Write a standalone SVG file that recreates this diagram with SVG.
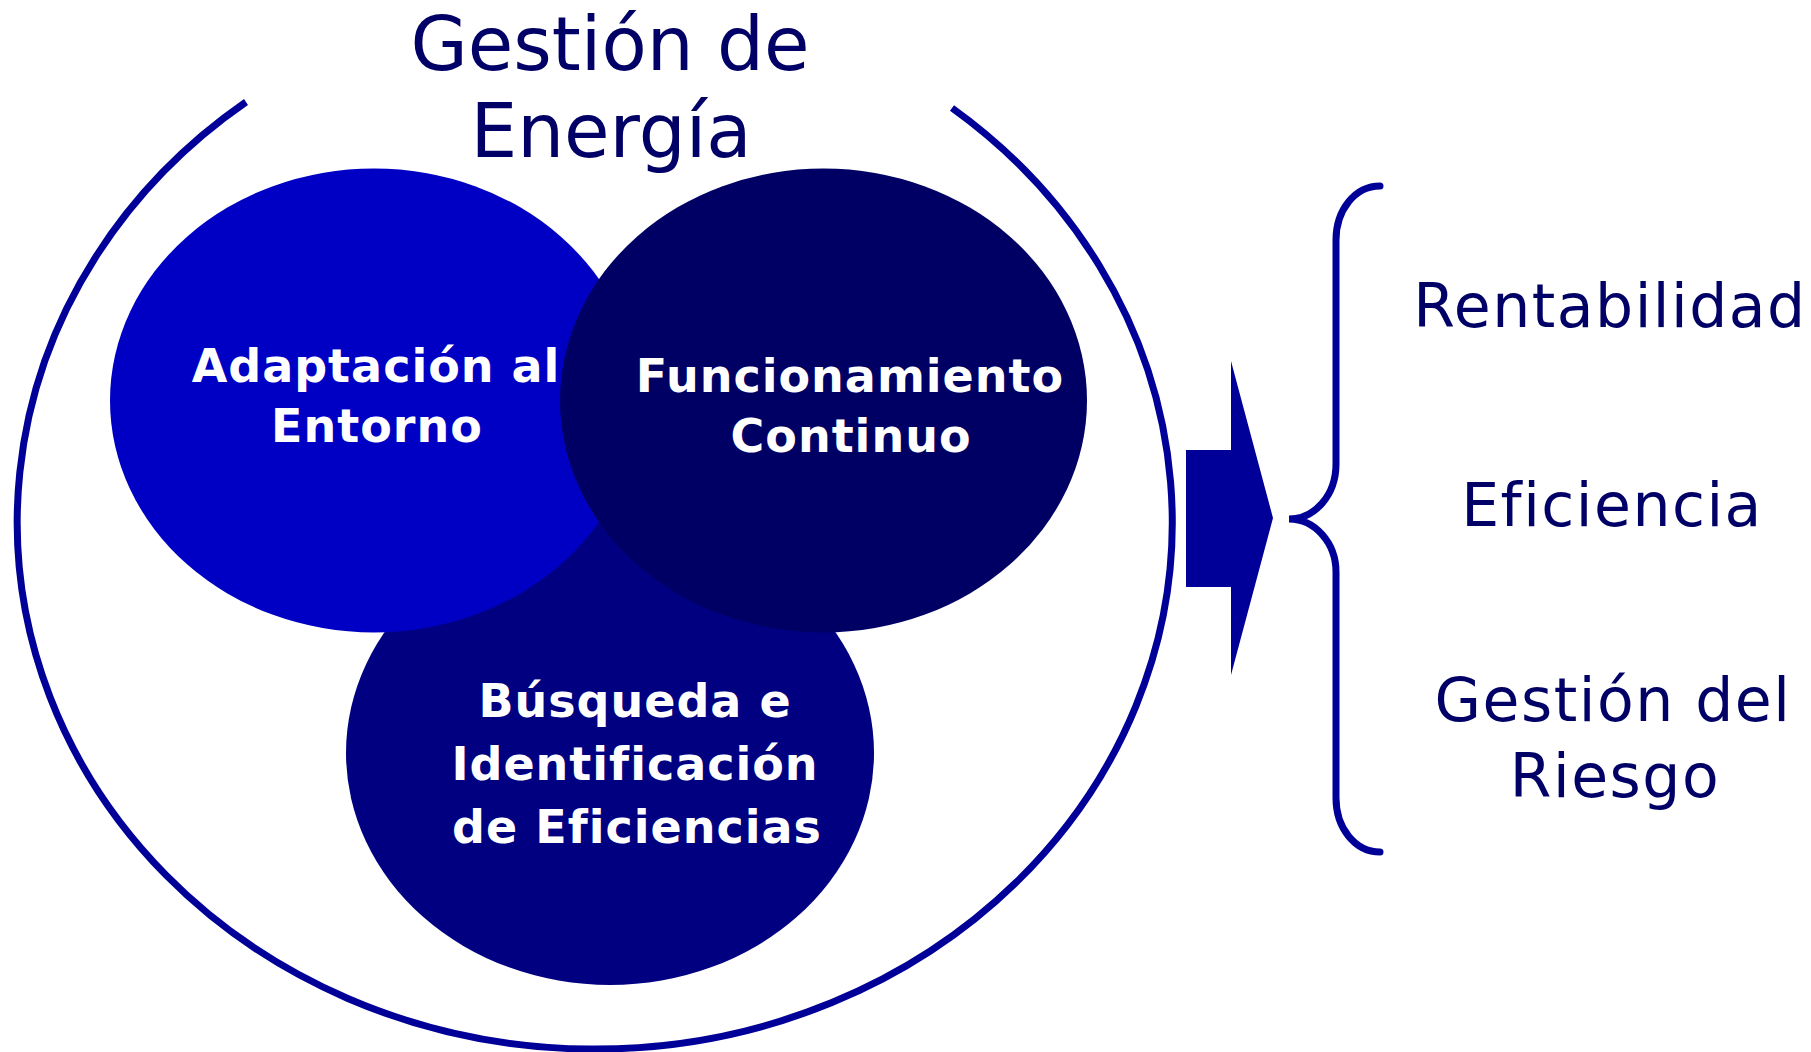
<svg xmlns="http://www.w3.org/2000/svg" width="1811" height="1052" viewBox="0 0 1811 1052">
  <style>
    .title { font-family: "DejaVu Sans", Verdana, sans-serif; font-size: 74px; fill: #000066; text-anchor: middle; }
    .out { font-family: "DejaVu Sans", Verdana, sans-serif; font-size: 60px; fill: #000066; text-anchor: middle; letter-spacing: 1.5px; }
    .lbl { font-family: "DejaVu Sans", Verdana, sans-serif; font-size: 46px; font-weight: bold; fill: #ffffff; text-anchor: middle; letter-spacing: 1px; }
    .line { fill: none; stroke: #000099; stroke-width: 7; }
  </style>
  <rect width="1811" height="1052" fill="#ffffff"/>

  <g id="outer">
    <path class="line" d="M246,102 A577.5,527 0 1,0 952,108"/>
    <text class="title" x="610" y="70">Gestión de</text>
    <text class="title" x="611" y="157">Energía</text>
  </g>

  <g id="busqueda">
    <ellipse cx="610" cy="753" rx="264" ry="232" fill="#000080"/>
    <text class="lbl" x="635" y="717">Búsqueda e</text>
    <text class="lbl" x="635" y="780">Identificación</text>
    <text class="lbl" x="637" y="843">de Eficiencias</text>
  </g>

  <g id="adaptacion">
    <ellipse cx="374" cy="400.5" rx="264" ry="232" fill="#0000C4"/>
    <text class="lbl" x="376" y="382">Adaptación al</text>
    <text class="lbl" x="377" y="442">Entorno</text>
  </g>

  <g id="funcionamiento">
    <ellipse cx="823.5" cy="400.5" rx="263.5" ry="232" fill="#000064"/>
    <text class="lbl" x="850" y="392">Funcionamiento</text>
    <text class="lbl" x="851" y="452">Continuo</text>
  </g>

  <g id="connectors">
    <polygon points="1186,450 1231,450 1231,361 1273,518 1231,675 1231,587 1186,587" fill="#000099"/>
    <path class="line" stroke-linecap="round" d="M1380,186 C1355,186 1336,210 1336,240 L1336,464 C1336,495 1315,519 1289,519 C1315,519 1336,543 1336,572 L1336,798 C1336,828 1355,852 1380,852"/>
  </g>

  <g id="rentabilidad">
    <text class="out" x="1610" y="327">Rentabilidad</text>
  </g>
  <g id="eficiencia">
    <text class="out" x="1612" y="526">Eficiencia</text>
  </g>
  <g id="riesgo">
    <text class="out" x="1613" y="721">Gestión del</text>
    <text class="out" x="1615" y="797">Riesgo</text>
  </g>
</svg>
